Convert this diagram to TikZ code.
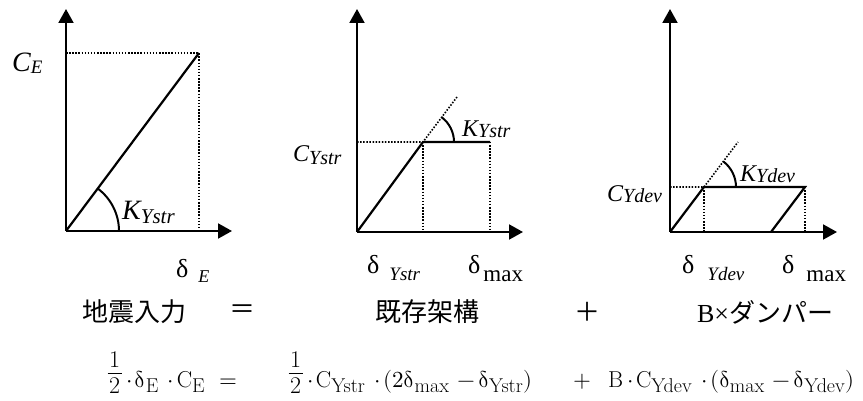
\documentclass[tikz,border=0pt]{standalone}
\usepackage{fontspec}
\usepackage{amsmath}
\usepackage{unicode-math}
\setmathfont{Latin Modern Math}
\newfontfamily\tms{Liberation Serif}
\newfontfamily\jp{Noto Sans CJK JP}
\usetikzlibrary{arrows.meta}
\tikzset{
  axis/.style={line width=2pt,-{Triangle[width=15pt,length=14pt]}},
  curve/.style={line width=2.2pt,line join=miter},
  dotline/.style={line width=1.6pt,dash pattern=on 1.5pt off 1.6pt},
  arcline/.style={line width=2pt},
  lab/.style={inner sep=0pt,anchor=base west},
  jtxt/.style={inner sep=0pt,anchor=center,font=\jp\fontsize{26}{26}\selectfont},
  eq/.style={inner sep=0pt,anchor=base west,font=\fontsize{23}{27}\selectfont}
}
\newcommand\gl[5]{{\tms\fontsize{#1}{#1}\selectfont\itshape #2\raisebox{#5}{\fontsize{#3}{#3}\selectfont #4}}}
\newcommand\dl[5]{{\tms\fontsize{26}{26}\selectfont δ\hspace{#1}\raisebox{#2}{\fontsize{#3}{#3}\selectfont #4#5}}}
\newcommand\hf{{\fontsize{24}{24}\selectfont\makebox[15pt]{\raisebox{20pt}{1}}\hspace{-15pt}\makebox[15pt]{\raisebox{-6pt}{2}}\hspace{-15pt}\makebox[15pt]{\rule[13.6pt]{14pt}{0.9pt}}}}
\newcommand\cd{\mathord{\mkern3mu\cdot\mkern2mu}}
\newcommand\dd{\symup{\delta}}
\newcommand\sbx[1]{_{\hbox{\fontsize{20}{20}\selectfont #1}}}
\newcommand\mn{\mkern2mu-\mkern-1.5mu}
\begin{document}
\begin{tikzpicture}[x=1pt,y=1pt]
\useasboundingbox (0,0) rectangle (863,-401);
% ---------- graph 1
\coordinate (O1) at (66,-231);
\coordinate (T1) at (66,-9);
\coordinate (X1) at (232,-231);
\coordinate (P1) at (199,-53);
\coordinate (A1) at (66,-53);
\coordinate (B1) at (199,-231);
\draw[dotline] (A1) -- (P1) -- (B1);
\draw[axis] (O1) -- (T1);
\draw[axis] (O1) -- (X1);
\draw[curve] (O1) -- (P1);
\draw[arcline] ([xshift=53pt]O1) arc[start angle=0,end angle=53.2,radius=53pt];
\node[lab] (ce) at (12,-72) {\gl{28}{C}{19}{E}{-2pt}};
\node[lab] (k1) at (122,-219) {\gl{28}{K}{21}{Ystr}{-5pt}};
\node[lab] (de) at (176,-277) {\dl{10pt}{-5pt}{18}{\itshape}{E}};
% ---------- graph 2
\coordinate (O2) at (357,-232);
\coordinate (T2) at (357,-9);
\coordinate (X2) at (523,-232);
\coordinate (Y2) at (423,-142);
\coordinate (M2) at (490,-142);
\coordinate (A2) at (357,-142);
\coordinate (E2) at (457,-97);
\coordinate (B2) at (423,-232);
\coordinate (C2) at (490,-232);
\draw[dotline] (A2) -- (Y2) -- (E2);
\draw[dotline] (Y2) -- (B2);
\draw[dotline] (M2) -- (C2);
\draw[axis] (O2) -- (T2);
\draw[axis] (O2) -- (X2);
\draw[curve] (O2) -- (Y2) -- (M2);
\draw[arcline] ([xshift=31pt]Y2) arc[start angle=0,end angle=53.5,radius=31pt];
\node[lab] (cy) at (293,-162) {\gl{24}{C}{20}{Ystr}{-3pt}};
\node[lab] (k2) at (462,-137) {\gl{24}{K}{20}{Ystr}{-1pt}};
\node[lab] (dy) at (367,-273) {\dl{10pt}{-7pt}{19}{\itshape}{Ystr}};
\node[lab] (dm2) at (468,-273) {\dl{3pt}{-8pt}{23}{\upshape}{max}};
% ---------- graph 3
\coordinate (O3) at (670,-232);
\coordinate (T3) at (670,-9);
\coordinate (X3) at (837,-232);
\coordinate (Y3) at (704,-187);
\coordinate (M3) at (805,-187);
\coordinate (U3) at (771,-232);
\coordinate (A3) at (670,-187);
\coordinate (E3) at (738,-142);
\coordinate (B3) at (704,-232);
\coordinate (C3) at (805,-232);
\draw[dotline] (A3) -- (Y3) -- (E3);
\draw[dotline] (Y3) -- (B3);
\draw[dotline] (M3) -- (C3);
\draw[axis] (O3) -- (T3);
\draw[axis] (O3) -- (X3);
\draw[curve] (O3) -- (Y3) -- (M3) -- (U3);
\draw[arcline] ([xshift=32pt]Y3) arc[start angle=0,end angle=53,radius=32pt];
\node[lab] (cd) at (607,-202) {\gl{24}{C}{20}{Ydev}{-1pt}};
\node[lab] (k3) at (740,-182) {\gl{24}{K}{20}{Ydev}{-1pt}};
\node[lab] (dd) at (682,-273) {\dl{13pt}{-7pt}{19}{\itshape}{Ydev}};
\node[lab] (dm3) at (782,-273) {\dl{12pt}{-8pt}{23}{\upshape}{max}};
% ---------- captions
\node[jtxt] (t1) at (134.5,-312) {地震入力};
\node[jtxt] (t2) at (242,-312) {＝};
\node[jtxt] (t3) at (427,-312) {既存架構};
\node[jtxt] (t4) at (587,-312) {＋};
\node[jtxt] (t5) at (765,-312) {{\tms B×}ダンパー};
% ---------- equation
\node[eq] (q1) at (107,-387) {\hf$\cd\dd\sbx{E}\mkern4mu\cd\mathrm{C}\sbx{E}$};
\node[eq,anchor=base] (q2) at (228,-387) {$=$};
\node[eq] (q3) at (288,-387) {\hf$\cd\mathrm{C}\sbx{Ystr}\mkern4mu\cd(2\dd\sbx{max}\mn\dd\sbx{Ystr})$};
\node[eq,anchor=base] (q4) at (582,-387) {$+$};
\node[eq] (q5) at (608,-387) {$\mathrm{B}\cd\mathrm{C}\sbx{Ydev}\mkern4mu\cd(\dd\sbx{max}\mn\dd\sbx{Ydev})$};
\end{tikzpicture}
\end{document}
